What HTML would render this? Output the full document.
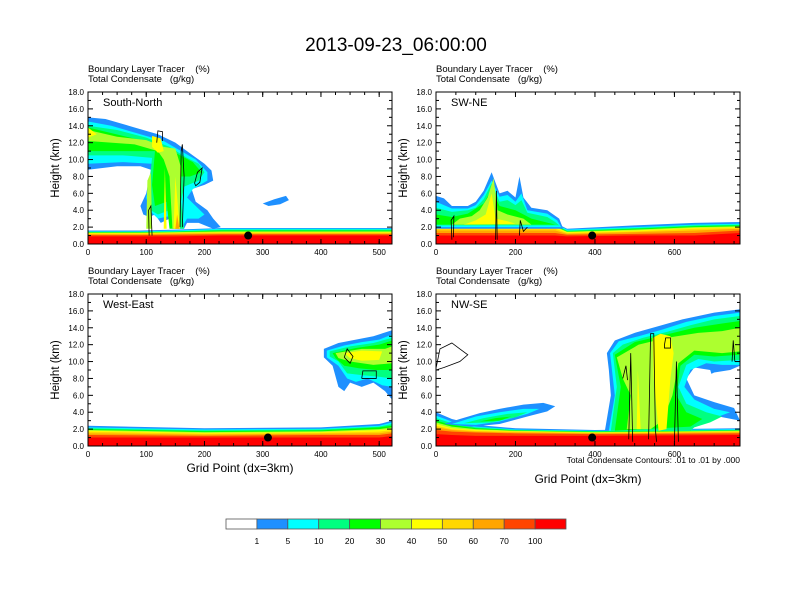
<!DOCTYPE html>
<html><head><meta charset="utf-8"><style>
body{margin:0;background:#fff;}
svg{display:block;font-family:"Liberation Sans",sans-serif;}
</style></head><body>
<svg id="chart" width="792" height="612" viewBox="0 0 792 612">
<text x="396" y="51" text-anchor="middle" font-size="19">2013-09-23_06:00:00</text>
<g id="panels"></g>
<g id="colorbar"></g>
<text x="240" y="472" text-anchor="middle" font-size="12">Grid Point (dx=3km)</text>
<text x="588" y="483" text-anchor="middle" font-size="12">Grid Point (dx=3km)</text>
<text x="740" y="463" text-anchor="end" font-size="8.5">Total Condensate Contours: .01 to .01 by .000</text>
</svg>
<script>
const colors=["#ffffff","#1e90ff","#00ffff","#00ff80","#00ff00","#adff2f","#ffff00","#ffd700","#ffa500","#ff4500","#ff0000"];
const cbLabels=["1","5","10","20","30","40","50","60","70","100"];
const yTicks=[0,2,4,6,8,10,12,14,16,18];
const p1XTicks=[0,100,200,300,400,500];
const p2XTicks=[0,200,400,600];
const panelNames=["South-North","SW-NE","West-East","NW-SE"];
const p1BlX=[0,90,150,230,522];
const p1BlTops=[[1.6,1.6,1.7,1.9,1.9],[1.5,1.5,1.6,1.8,1.8],[1.45,1.45,1.5,1.7,1.7],[1.4,1.4,1.45,1.6,1.6],[1.35,1.35,1.4,1.5,1.5],[1.3,1.3,1.35,1.4,1.4],[1.25,1.25,1.3,1.35,1.35],[1.15,1.15,1.2,1.25,1.25],[1.05,1.05,1.1,1.15,1.15],[0.9,0.9,0.9,1.0,1.0]];
const p2BlX=[0,300,330,500,650,765];
const p2BlTops=[[2.5,2.5,1.8,2.2,2.5,2.6],[2.4,2.4,1.7,2.0,2.3,2.4],[2.3,2.3,1.6,1.9,2.2,2.3],[2.2,2.2,1.5,1.8,2.1,2.2],[2.1,2.1,1.45,1.7,2.0,2.1],[2.0,2.0,1.4,1.6,1.9,2.0],[1.8,1.8,1.3,1.5,1.8,1.9],[1.6,1.6,1.2,1.4,1.6,1.8],[1.3,1.3,1.1,1.2,1.3,1.6],[1.0,1.0,0.9,1.0,1.0,1.3]];
const p3BlX=[0,200,400,500,522];
const p3BlTops=[[2.4,2.1,2.2,2.6,3.0],[2.2,1.95,2.05,2.4,2.8],[2.1,1.85,1.95,2.3,2.6],[2.0,1.75,1.85,2.2,2.4],[1.9,1.65,1.75,2.0,2.2],[1.8,1.55,1.65,1.9,2.0],[1.7,1.45,1.55,1.7,1.9],[1.5,1.35,1.45,1.5,1.7],[1.3,1.2,1.3,1.3,1.5],[1.0,1.0,1.0,1.0,1.2]];
const p4BlX=[0,40,100,200,400,765];
const p4BlTops=[[4.0,3.2,2.5,2.1,1.9,2.1],[3.6,2.9,2.3,1.95,1.8,2.0],[3.3,2.7,2.2,1.9,1.75,1.9],[3.0,2.5,2.1,1.85,1.7,1.85],[2.8,2.3,2.0,1.8,1.65,1.8],[2.6,2.1,1.9,1.75,1.6,1.75],[2.4,2.0,1.8,1.7,1.55,1.7],[2.2,1.9,1.7,1.6,1.5,1.6],[1.9,1.7,1.6,1.5,1.4,1.5],[1.4,1.3,1.2,1.2,1.2,1.3]];
const p1Clouds=[
[1,[0,15,30,14.8,80,13.8,120,13,150,12,180,10.5,200,9.5,212,8.7,215,7.5,200,7,178,6.5,185,5,205,4,215,3,228,2,215,1.8,190,2.5,170,2.5,165,1.8,145,1.8,140,3,125,2.5,115,3.5,105,3.2,95,3.5,90,4.5,100,6,108,8.8,90,9.2,50,9.2,0,8.8]],
[1,[300,4.8,320,5.3,340,5.7,345,5.2,330,4.7,310,4.5]],
[2,[0,14.5,40,14,90,13,130,12.2,160,11,185,10,205,8.5,205,7.5,180,6.5,170,5.5,185,4.5,200,3.5,190,3,170,3,160,1.8,150,1.8,140,3.3,120,3,105,4,100,5.5,110,9.5,60,9.7,0,9.5]],
[3,[0,14,50,13.5,100,12.6,140,11.5,170,10.2,190,9.5,200,8.5,190,7.5,165,6.8,160,5,165,1.8,150,1.8,140,4,120,3.5,108,4,104,6,110,10.2,60,10.5,0,10.5]],
[4,[0,13.8,60,12.8,110,12,150,10.8,180,9.7,195,8.5,175,8,160,8,155,1.8,140,1.8,135,5,115,4.5,110,7,115,11,60,11,0,11]],
[5,[0,13.5,50,12.7,100,12.3,130,11.5,150,11.3,160,9,158,1.8,145,1.8,140,8,130,10,120,11,80,11.8,0,12.2]],
[5,[100,1.8,102,7.5,108,8.5,110,1.8]],
[6,[0,13.8,15,13,0,12.6]],
[6,[110,12.8,125,12.5,130,11,120,10.8,110,11.5]],
[6,[147,1.8,150,8,155,4,158,1.8]],
[6,[130,1.8,132,9,135,1.8]],
[8,[150,1.8,153,3.5,157,1.8]]];
const p2Clouds=[
[1,[0,5.7,20,5.4,40,4.5,80,4.5,100,5,120,6.3,140,8.5,160,6,180,6.3,200,5.5,210,8,220,5.5,240,4.3,280,4,310,3,320,1.8,0,1.8]],
[2,[0,5,40,4.2,80,4.2,100,4.6,120,5.8,140,7.5,160,5.6,180,5.8,200,5,215,6,230,4,280,3.6,305,2.8,315,2,0,2]],
[3,[0,4.3,40,3.8,80,4,100,4.3,120,5.3,140,7.2,160,5,180,5.2,200,4.6,215,5.2,230,3.7,280,3.2,300,2.6,310,2.2,0,2.2]],
[4,[0,3.5,40,3.2,80,3.6,120,4.8,140,6.5,160,4.5,200,4,240,3,300,2.3,0,2.3]],
[5,[40,2.3,60,3,90,3.3,110,4,130,5.5,145,7.8,155,4,180,3.5,220,3,240,2.3]],
[6,[70,2.3,100,2.8,125,3.5,140,6,150,3,180,2.7,200,2.4]]];
const p3Clouds=[
[1,[405,11.5,430,12.2,460,12.6,490,13,522,13.7,522,5.5,510,6.5,490,7.5,470,7,450,7.5,440,6.5,430,7,420,9.5,405,10.5]],
[2,[410,11.3,440,11.9,470,12.3,500,12.6,522,13.2,522,7,505,7.2,480,8,460,7.6,445,8,430,9.5,410,10.5]],
[3,[415,11.2,450,11.8,490,12.2,522,12.8,522,8,500,8.2,470,8.4,445,8.6,430,10,415,10.6]],
[4,[420,11,460,11.6,500,12,522,12.5,522,9,495,9,465,9.2,440,9.5,425,10.4]],
[5,[425,11,470,11.5,510,11.5,522,11.8,522,9.8,490,9.6,450,10,430,10.4]],
[6,[440,11,470,11.3,505,11.2,500,10.2,470,10.1,450,10.4]]];
const p4Clouds=[
[1,[20,2.6,60,3.2,110,3.9,160,4.4,220,4.9,270,5.1,300,4.7,280,4.1,230,3.5,160,2.6,90,2.3]],
[2,[40,2.6,100,3.5,160,4.0,220,4.4,260,4.4,230,3.8,160,2.9,100,2.5]],
[3,[70,2.7,120,3.3,180,3.8,230,4.0,200,3.4,140,2.8]],
[4,[110,2.9,150,3.3,190,3.5,160,3.0]],
[1,[430,11,450,12.5,500,13.4,560,14.2,620,15,700,15.8,765,16.2,765,8.8,740,8.2,700,7.5,690,9,650,9.3,630,8,650,6,700,5.2,750,4.5,765,3,700,3.6,660,3.2,640,1.8,425,1.8,440,6,435,9]],
[2,[438,11,460,12.4,510,13,570,13.8,630,14.7,700,15.4,765,15.8,765,9.6,720,9.6,680,9.8,640,9,625,7,650,5.5,700,4.4,740,4,700,3.3,660,2.8,640,1.8,435,1.8,450,6]],
[3,[445,11,470,12,520,12.8,580,13.5,640,14.3,700,15,765,15.4,765,10.2,700,10,660,10.3,630,9.6,610,7,630,5,680,4,720,3.5,690,2.8,650,2.2,640,1.8,440,1.8,455,7]],
[4,[450,10.8,500,12.3,580,13.2,650,14,720,14.5,765,14.8,765,10.8,700,10.6,650,10.8,615,9.5,605,6,630,4,670,3.2,640,2.3,450,1.8,465,7]],
[5,[455,10.5,510,12,580,12.8,660,13.4,720,13.6,765,14,765,11.2,720,11,650,11.3,610,9.8,595,6,570,3,540,2,480,2,490,6,470,8]],
[6,[545,12.8,565,13.3,590,13,598,11,590,8,580,2,560,1.8,548,8]],
[6,[505,2,508,9,515,2]],
[0,[660,7.8,700,8.7,740,9,765,9.5,765,7.5,740,6.5,720,5.5,700,6.8,680,7.2]]];
const p1Lines=[[105,1,104,4,108,4.5,110,1],[118,12,120,13.4,128,13.3,128,12.2],[158,2,160,11,162,11.8,165,8,162,2],[183,7.2,188,8.5,196,9,192,7.3,185,6.9,183,7.2]];
const p2Lines=[[40,0.5,38,2.8,45,3.3,44,0.8],[150,0.5,152,6.3,154,0.5],[210,1,212,2.8,220,1.5,230,2]];
const p3Lines=[[440,10.5,445,11.5,455,10.6,450,9.8,440,10.5],[470,8,472,8.9,495,8.9,495,8,470,8]];
const p4Lines=[[0,9.2,10,11.5,40,12.2,60,11.5,80,10.8,60,10,20,9.3,0,9.0],[485,0.8,490,11,495,0.5],[535,0.8,540,13.3,548,13.3,552,2,555,0.5],[575,12,578,12.8,590,12.8,590,11.6,575,11.6,575,12],[600,0.5,605,10,610,0.5],[470,8,478,9.5,482,7.8],[745,10,748,12.5,752,10]];
const panels=[
{x0:88,yb:244,xmax:522,bx:p1BlX,bt:p1BlTops,cl:p1Clouds,ln:p1Lines,xt:p1XTicks,dot:[275,1.0],name:"south-north"},
{x0:436,yb:244,xmax:765,bx:p2BlX,bt:p2BlTops,cl:p2Clouds,ln:p2Lines,xt:p2XTicks,dot:[393,1.0],name:"sw-ne"},
{x0:88,yb:446,xmax:522,bx:p3BlX,bt:p3BlTops,cl:p3Clouds,ln:p3Lines,xt:p1XTicks,dot:[309,1.0],name:"west-east"},
{x0:436,yb:446,xmax:765,bx:p4BlX,bt:p4BlTops,cl:p4Clouds,ln:p4Lines,xt:p2XTicks,dot:[393,1.0],name:"nw-se"}];
const NS="http://www.w3.org/2000/svg";
function mk(t,a,p){const e=document.createElementNS(NS,t);for(const k in a)e.setAttribute(k,a[k]);p.appendChild(e);return e;}
const root=document.getElementById('panels');
const W=304,H=152;
panels.forEach((P,i)=>{
 const sx=x=>P.x0+x/P.xmax*W, sy=z=>P.yb-z/18*H;
 const g=mk('g',{},root);
 
 
 const cp=mk('clipPath',{id:'cp'+i},g);
 mk('rect',{x:P.x0,y:P.yb-H,width:W,height:H},cp);
 const d=mk('g',{'clip-path':'url(#cp'+i+')'},g);
 P.bt.forEach((tops,li)=>{
  let pts=P.bx.map((x,j)=>sx(x)+','+sy(tops[j])).join(' ');
  pts+=' '+sx(P.xmax)+','+sy(0)+' '+sx(0)+','+sy(0);
  const e=mk('polygon',{points:pts,fill:colors[li+1]},d);
  
  
 });
 P.cl.forEach(c=>{
  const a=c[1];let pts=[];for(let k=0;k<a.length;k+=2)pts.push(sx(a[k])+','+sy(a[k+1]));
  const e=mk('polygon',{points:pts.join(' '),fill:colors[c[0]]},d);
  
  
 });
 P.ln.forEach(a=>{
  let pts=[];for(let k=0;k<a.length;k+=2)pts.push(sx(a[k])+','+sy(a[k+1]));
  const e=mk('polyline',{points:pts.join(' '),fill:'none',stroke:'#000','stroke-width':0.8},d);
  
  
 });
 const dot=mk('circle',{cx:sx(P.dot[0]),cy:sy(P.dot[1]),r:4,fill:'#000'},g);
 
 
 mk('rect',{x:P.x0,y:P.yb-H,width:W,height:H,fill:'none',stroke:'#000','stroke-width':1},g);
 yTicks.forEach(v=>{
  const y=sy(v);
  mk('line',{x1:P.x0,x2:P.x0+5,y1:y,y2:y,stroke:'#000'},g);
  mk('line',{x1:P.x0+W,x2:P.x0+W-5,y1:y,y2:y,stroke:'#000'},g);
  if(v<18){const m=sy(v+1);mk('line',{x1:P.x0,x2:P.x0+3,y1:m,y2:m,stroke:'#000'},g);mk('line',{x1:P.x0+W,x2:P.x0+W-3,y1:m,y2:m,stroke:'#000'},g);}
  const t=mk('text',{x:P.x0-4,y:y+3,'text-anchor':'end','font-size':8},g);t.textContent=v.toFixed(1);
  
  
 });
 P.xt.forEach(v=>{
  const x=sx(v);
  mk('line',{x1:x,x2:x,y1:P.yb,y2:P.yb-5,stroke:'#000'},g);
  mk('line',{x1:x,x2:x,y1:P.yb-H,y2:P.yb-H+5,stroke:'#000'},g);
  const t=mk('text',{x:x,y:P.yb+11,'text-anchor':'middle','font-size':8},g);t.textContent=v;
  
  
 });
 const step=P.xt[1]/4;
 for(let v=step;v<P.xmax;v+=step){const x=sx(v);mk('line',{x1:x,x2:x,y1:P.yb,y2:P.yb-3,stroke:'#000'},g);mk('line',{x1:x,x2:x,y1:P.yb-H,y2:P.yb-H+3,stroke:'#000'},g);}
 const lab=mk('text',{x:P.x0+15,y:P.yb-H+14,'font-size':11},g);lab.textContent=panelNames[i];
 
 
 const t1=mk('text',{x:P.x0,y:P.yb-H-20,'font-size':9.5},g);t1.textContent='Boundary Layer Tracer\u00a0\u00a0\u00a0 (%)';
 
 
 const t2=mk('text',{x:P.x0,y:P.yb-H-10,'font-size':9.5},g);t2.textContent='Total Condensate\u00a0\u00a0 (g/kg)';
 
 
 const yt=mk('text',{x:0,y:0,'font-size':11.5,'text-anchor':'middle',transform:'translate('+(P.x0-29)+','+(P.yb-H/2)+') rotate(-90)'},g);yt.textContent='Height (km)';
 
 
});
const cb=document.getElementById('colorbar');
const cbx=226,cbw=340/11;
colors.forEach((c,i)=>{
 const r=mk('rect',{x:cbx+i*cbw,y:519,width:cbw,height:10,fill:c,stroke:'#555','stroke-width':0.8},cb);
 
 
});
cbLabels.forEach((l,i)=>{
 const t=mk('text',{x:cbx+(i+1)*cbw,y:544,'text-anchor':'middle','font-size':8.5},cb);t.textContent=l;
 
 
});
</script>
</body></html>
